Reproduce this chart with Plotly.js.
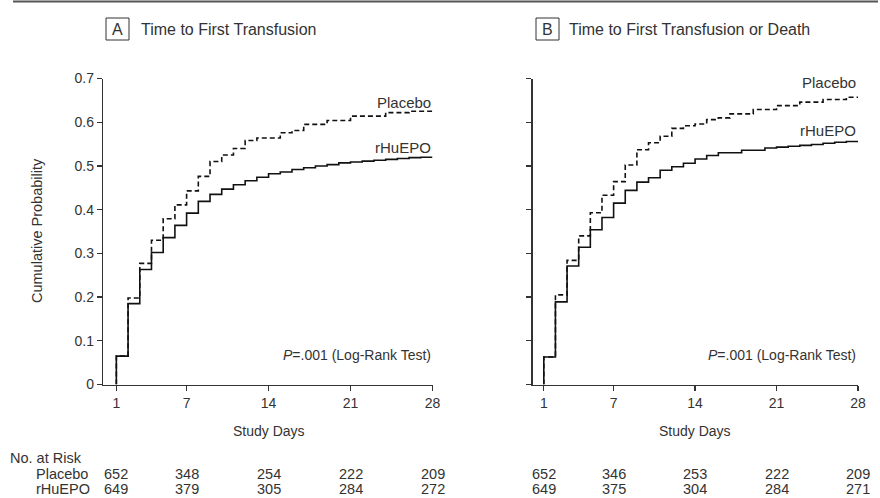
<!DOCTYPE html>
<html>
<head>
<meta charset="utf-8">
<script src="https://cdn.plot.ly/plotly-3.0.1.min.js"></script>
<style>html,body{margin:0;padding:0;background:#fff;}#chart{width:880px;height:498px;}</style>
</head>
<body>
<div id="chart"></div>
<script>
// ---- data ----
const days = [1,2,3,4,5,6,7,8,9,10,11,12,13,14,15,16,17,18,19,20,21,22,23,24,25,26,27,28];
const placeboA = [0.065,0.198,0.277,0.330,0.379,0.411,0.443,0.476,0.510,0.525,0.540,0.558,0.564,0.564,0.576,0.581,0.595,0.595,0.604,0.604,0.614,0.614,0.614,0.622,0.622,0.625,0.625,0.625];
const rhuepoA  = [0.065,0.185,0.263,0.302,0.336,0.364,0.392,0.419,0.435,0.447,0.457,0.466,0.474,0.482,0.486,0.492,0.496,0.500,0.503,0.507,0.509,0.511,0.513,0.515,0.517,0.519,0.520,0.520];
const placeboB = [0.063,0.205,0.284,0.340,0.393,0.433,0.464,0.502,0.537,0.553,0.568,0.586,0.592,0.596,0.606,0.610,0.619,0.619,0.629,0.629,0.638,0.638,0.646,0.646,0.652,0.652,0.657,0.657];
const rhuepoB  = [0.063,0.189,0.271,0.314,0.354,0.382,0.415,0.444,0.463,0.473,0.490,0.498,0.506,0.516,0.524,0.530,0.530,0.536,0.536,0.541,0.543,0.545,0.547,0.549,0.552,0.554,0.556,0.556];
const xTicks = [1,7,14,21,28];
const yTicks = [0,0.1,0.2,0.3,0.4,0.5,0.6,0.7];
const yTickText = ['0','0.1','0.2','0.3','0.4','0.5','0.6','0.7'];
const riskDays = [1,7,14,21,28];
const riskPlaceboA = [652,348,254,222,209];
const riskRhuepoA  = [649,379,305,284,272];
const riskPlaceboB = [652,346,253,222,209];
const riskRhuepoB  = [649,375,304,284,271];
const panelTitles = ['Time to First Transfusion','Time to First Transfusion or Death'];
const panelLetters = ['A','B'];
const seriesNames = ['Placebo','rHuEPO'];

// ---- layout constants ----
const W = 880, H = 498;
const FONT = 'Liberation Sans, Arial, sans-serif';
const TXT = '#333';
const px = v => v / W;
const py = v => 1 - v / H;

function stepTrace(vals, xa, ya, dashed) {
  return {
    x: [days[0]].concat(days),
    y: [0].concat(vals),
    xaxis: xa, yaxis: ya,
    mode: 'lines', type: 'scatter',
    line: {shape: 'hv', color: '#111', width: 1.6, dash: dashed ? '5px,3px' : 'solid'},
    hoverinfo: 'skip', showlegend: false
  };
}

const traces = [
  stepTrace(placeboA, 'x', 'y', true),
  stepTrace(rhuepoA, 'x', 'y', false),
  stepTrace(placeboB, 'x2', 'y2', true),
  stepTrace(rhuepoB, 'x2', 'y2', false)
];

const yDom = [py(384.5), py(78.5)];
function xAx(domain, range) {
  return {
    domain: domain, range: range, showgrid: false, zeroline: false,
    showline: true, linecolor: '#333', linewidth: 1.2,
    ticks: 'outside', ticklen: 5, tickwidth: 1.2, tickcolor: '#333',
    tickmode: 'array', tickvals: xTicks, ticktext: xTicks.map(String),
    tickfont: {family: FONT, size: 14, color: TXT}, fixedrange: true
  };
}
function yAx(anchor, showLabels) {
  return {
    domain: yDom, range: [0, 0.7], anchor: anchor, showgrid: false, zeroline: false,
    showline: true, linecolor: '#333', linewidth: 1.2,
    ticks: 'outside', ticklen: 5, tickwidth: 1.2, tickcolor: '#333',
    tickmode: 'array', tickvals: yTicks, ticktext: showLabels ? yTickText : yTicks.map(() => ''),
    tickfont: {family: FONT, size: 14, color: TXT}, fixedrange: true
  };
}

const annotations = [];
const shapes = [];
function txt(x, y, text, opts) {
  annotations.push(Object.assign({
    x: x, y: y, xref: 'paper', yref: 'paper', text: text, showarrow: false,
    xanchor: 'left', yanchor: 'middle', borderpad: 0,
    font: {family: FONT, size: 14, color: TXT}
  }, opts || {}));
}

// top rule
shapes.push({type: 'line', xref: 'paper', yref: 'paper', x0: px(13), x1: px(878), y0: py(1.5), y1: py(1.5), line: {color: '#555', width: 2}});

// panel headers
const boxX = [106, 536];
const titleX = [140, 568];
for (let i = 0; i < 2; i++) {
  shapes.push({type: 'rect', xref: 'paper', yref: 'paper', x0: px(boxX[i]), x1: px(boxX[i] + 23), y0: py(40), y1: py(18), line: {color: '#333', width: 1}});
  txt(px(boxX[i] + 11.5), py(29.5), panelLetters[i], {xanchor: 'center', font: {family: FONT, size: 16, color: TXT}});
  txt(px(titleX[i]), py(29.5), panelTitles[i], {font: {family: FONT, size: 16, color: TXT}});
}

// y-axis title
txt(px(37), py(231), 'Cumulative Probability', {xanchor: 'center', textangle: -90, font: {family: FONT, size: 14.5, color: TXT}});

// x-axis titles, curve labels, p-values
const axisNames = [['x', 'y'], ['x2', 'y2']];
const labelY = [[102, 148], [83, 131]];
for (let i = 0; i < 2; i++) {
  const [xa, ya] = axisNames[i];
  annotations.push({x: 14, xref: xa, y: py(431), yref: 'paper', text: 'Study Days', showarrow: false, xanchor: 'center', yanchor: 'middle', font: {family: FONT, size: 14, color: TXT}});
  annotations.push({x: 28, xref: xa, y: py(labelY[i][0]), yref: 'paper', text: seriesNames[0], showarrow: false, xanchor: 'right', yanchor: 'middle', font: {family: FONT, size: 15, color: TXT}});
  annotations.push({x: 28, xref: xa, y: py(labelY[i][1]), yref: 'paper', text: seriesNames[1], showarrow: false, xanchor: 'right', yanchor: 'middle', font: {family: FONT, size: 15, color: TXT}});
  annotations.push({x: 28, xref: xa, y: py(355), yref: 'paper', text: '<i>P</i>=.001 (Log-Rank Test)', showarrow: false, xanchor: 'right', yanchor: 'middle', font: {family: FONT, size: 14, color: TXT}});
}

// risk table
const rowY = [474, 489];
txt(px(9), py(458), 'No. at Risk', {font: {family: FONT, size: 14.5, color: TXT}});
txt(px(35), py(rowY[0]), seriesNames[0], {font: {family: FONT, size: 14.5, color: TXT}});
txt(px(35), py(rowY[1]), seriesNames[1], {font: {family: FONT, size: 14.5, color: TXT}});
const riskRows = [[riskPlaceboA, riskRhuepoA], [riskPlaceboB, riskRhuepoB]];
for (let i = 0; i < 2; i++) {
  const xa = axisNames[i][0];
  riskRows[i].forEach((row, r) => {
    row.forEach((n, k) => {
      annotations.push({x: riskDays[k], xref: xa, y: py(rowY[r]), yref: 'paper', text: String(n), showarrow: false, xanchor: 'center', yanchor: 'middle', borderpad: 0, font: {family: FONT, size: 14.5, color: TXT}});
    });
  });
}

const layout = {
  width: W, height: H,
  margin: {l: 0, r: 0, t: 0, b: 0},
  paper_bgcolor: '#fff', plot_bgcolor: 'rgba(0,0,0,0)',
  xaxis: Object.assign(xAx([px(103), px(432.5)], [-0.14, 28]), {anchor: 'y'}),
  yaxis: yAx('x', true),
  xaxis2: Object.assign(xAx([px(532.5), px(858)], [0.03, 28]), {anchor: 'y2'}),
  yaxis2: yAx('x2', false),
  showlegend: false,
  annotations: annotations,
  shapes: shapes
};

Plotly.newPlot('chart', traces, layout, {staticPlot: true, displayModeBar: false});
</script>
</body>
</html>
